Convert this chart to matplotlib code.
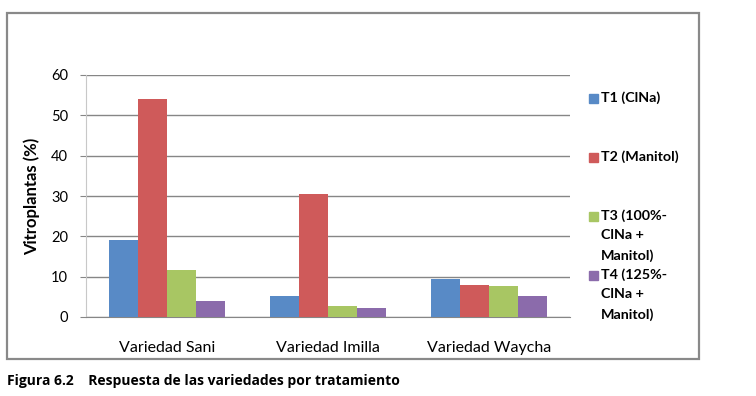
import numpy as np
import matplotlib.pyplot as plt
from matplotlib.patches import Rectangle

# values
variedades = ["Variedad Sani", "Variedad Imilla", "Variedad Waycha"]
t1 = [19.0, 5.2, 9.4]
t2 = [54.0, 30.5, 7.9]
t3 = [11.7, 2.7, 7.7]
t4 = [4.0, 2.2, 5.2]
series_labels = ["T1 (ClNa)", "T2 (Manitol)", "T3 (100%-\nClNa +\nManitol)", "T4 (125%-\nClNa +\nManitol)"]
colors = ["#588AC6", "#CF5A5A", "#A8C663", "#8B6BAB"]
yticks = [0, 10, 20, 30, 40, 50, 60]

plt.rcParams["font.family"] = ["Lato", "DejaVu Sans"]

W, H = 756, 396
fig = plt.figure(figsize=(W / 100, H / 100), dpi=100)
ax = fig.add_axes([86 / W, 1 - 317 / H, 484 / W, 242 / H])

x = np.arange(len(variedades))
width = 0.18
for i, (vals, col) in enumerate(zip([t1, t2, t3, t4], colors)):
    ax.bar(x + (i - 1.5) * width, vals, width, color=col, zorder=3)

ax.set_xlim(-0.5, 2.5)
ax.set_ylim(0, 60)
ax.set_yticks(yticks)
ax.set_xticks(x)
ax.set_xticklabels(variedades, fontsize=11.5)
ax.yaxis.grid(True, color="#868686", lw=1, zorder=0)
for s in ["top", "right"]:
    ax.spines[s].set_visible(False)
ax.spines["left"].set_color("#C8C8C8")
ax.spines["bottom"].set_color("#868686")
ax.tick_params(axis="x", length=0, pad=17)
ax.tick_params(axis="y", length=4, color="#868686", pad=9, labelsize=10.5)

fig.text(32 / W, 1 - 196 / H, "Vitroplantas (%)", rotation=90, ha="center", va="center",
         fontsize=12, fontweight="bold")

# legend drawn by hand to match the spread-out layout
for i, (lab, col) in enumerate(zip(series_labels, colors)):
    ytop = 93 + 59 * i
    fig.patches.append(Rectangle((589 / W, 1 - (ytop + 10) / H), 9 / W, 9 / H,
                                 transform=fig.transFigure, color=col))
    fig.text(601 / W, 1 - (ytop - 2) / H, lab, ha="left", va="top", fontsize=10.3,
             fontweight="bold", linespacing=1.75)

fig.patches.append(Rectangle((7 / W, 1 - 359 / H), 692 / W, 346 / H, transform=fig.transFigure,
                             fill=False, edgecolor="#898989", lw=1.6))

fig.text(7 / W, 1 - 381 / H, "Figura 6.2    Respuesta de las variedades por tratamiento",
         ha="left", va="center", fontsize=10, fontweight="bold", family=["Open Sans", "DejaVu Sans"])

fig.savefig("out.png", dpi=100)
